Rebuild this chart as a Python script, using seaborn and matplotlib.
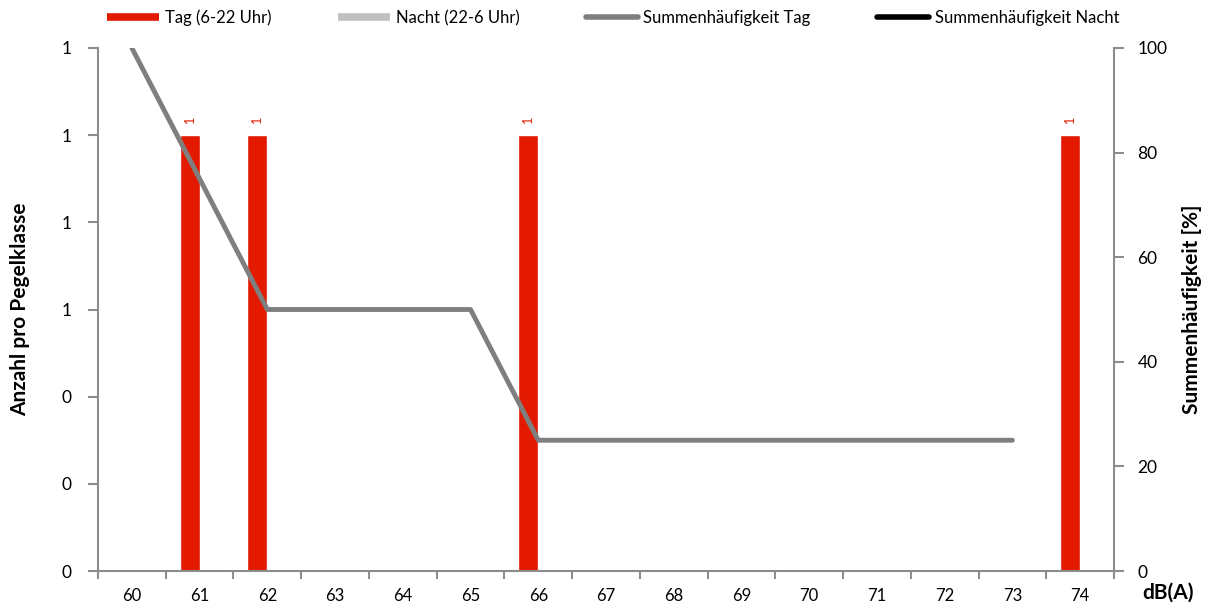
import matplotlib
matplotlib.use("Agg")
import matplotlib.pyplot as plt
import numpy as np
import pandas as pd
import seaborn as sns
from matplotlib.lines import Line2D

# data
pegelklassen = [str(v) for v in range(60, 75)]
anzahl_tag = [0, 1, 1, 0, 0, 0, 1, 0, 0, 0, 0, 0, 0, 0, 1]
anzahl_nacht = [0] * 15
summe_tag = [100, 75, 50, 50, 50, 50, 25, 25, 25, 25, 25, 25, 25, 25]

label_tag = "Tag (6-22 Uhr)"
label_nacht = "Nacht (22-6 Uhr)"
label_sum_tag = "Summenhäufigkeit Tag"
label_sum_nacht = "Summenhäufigkeit Nacht"

red = "#E41A00"
light_gray = "#BEC0C2"
mid_gray = "#7F7F7F"
spine_col = "#8C8C8C"

df = pd.DataFrame({
    "dB": pegelklassen * 2,
    "Zeitraum": [label_tag] * len(pegelklassen) + [label_nacht] * len(pegelklassen),
    "Anzahl": anzahl_tag + anzahl_nacht,
})

sns.set_theme(style="white")
plt.rcParams["font.family"] = ["Lato", "DejaVu Sans"]
plt.rcParams["text.color"] = "black"
plt.rcParams["axes.labelcolor"] = "black"

fig = plt.figure(figsize=(12.05, 6.06), dpi=100)
ax = fig.add_axes([98 / 1205, 1 - 571 / 606, (1114 - 98) / 1205, (571 - 48) / 606])

sns.barplot(data=df, x="dB", y="Anzahl", hue="Zeitraum", order=pegelklassen,
            hue_order=[label_tag, label_nacht], palette=[red, light_gray],
            width=0.59, saturation=1, legend=False, ax=ax)

# value labels only on the Tag bars that have a count
tag_bars = ax.containers[0]
ax.bar_label(tag_bars, labels=[str(v) if v else "" for v in anzahl_tag],
             rotation=90, color=red, fontsize=9, padding=9)

ax.set_xlim(-0.5, len(pegelklassen) - 0.5)
ax.set_ylim(0, 1.2)
ax.set_yticks(np.arange(0, 1.21, 0.2))
ax.set_yticklabels([f"{v:.0f}" for v in np.arange(0, 1.21, 0.2)])
ax.set_xticks(range(len(pegelklassen)))
ax.set_xticklabels(pegelklassen)
ax.set_xticks(np.arange(-0.5, len(pegelklassen), 1), minor=True)
ax.tick_params(axis="x", which="major", length=0, pad=12, labelsize=12, labelcolor="black")
ax.tick_params(axis="x", which="minor", length=6, width=1.5, color=spine_col, bottom=True)
ax.tick_params(axis="y", length=7, width=1.5, color=spine_col, left=True, labelsize=12.5,
               pad=12, labelcolor="black")
ax.set_xlabel("")
ax.set_ylabel("Anzahl pro Pegelklasse", fontsize=15, fontweight="bold", labelpad=23)

ax2 = ax.twinx()
sns.lineplot(x=np.arange(len(summe_tag)), y=summe_tag, color=mid_gray, linewidth=3.5, ax=ax2)
ax2.set_ylim(0, 100)
ax2.set_yticks(range(0, 101, 20))
ax2.tick_params(axis="y", length=7, width=1.5, color=spine_col, right=True, labelsize=12.5,
                pad=10, labelcolor="black")
ax2.set_ylabel("Summenhäufigkeit [%]", fontsize=15, fontweight="bold", labelpad=10)
ax2.set_xlim(-0.5, len(pegelklassen) - 0.5)

for a in (ax, ax2):
    a.spines["top"].set_visible(False)
    for s in ("left", "right", "bottom"):
        a.spines[s].set_color(spine_col)
        a.spines[s].set_linewidth(1.5)
ax.spines["right"].set_visible(False)
ax2.spines["left"].set_visible(False)
ax2.spines["bottom"].set_visible(False)

handles = [
    Line2D([], [], color=red, linewidth=5.5, solid_capstyle="butt"),
    Line2D([], [], color=light_gray, linewidth=5.5, solid_capstyle="butt"),
    Line2D([], [], color=mid_gray, linewidth=4, solid_capstyle="round"),
    Line2D([], [], color="black", linewidth=4, solid_capstyle="round"),
]
fig.legend(handles, [label_tag, label_nacht, label_sum_tag, label_sum_nacht],
           loc="center", bbox_to_anchor=(0.509, 1 - 18 / 606), ncol=4, frameon=False,
           fontsize=12, handlelength=3.1, handletextpad=0.35, columnspacing=4.0)

fig.text(1168 / 1205, 1 - 593 / 606, "dB(A)", fontsize=15, fontweight="bold",
         ha="center", va="center")

fig.savefig("out.png", dpi=100)
